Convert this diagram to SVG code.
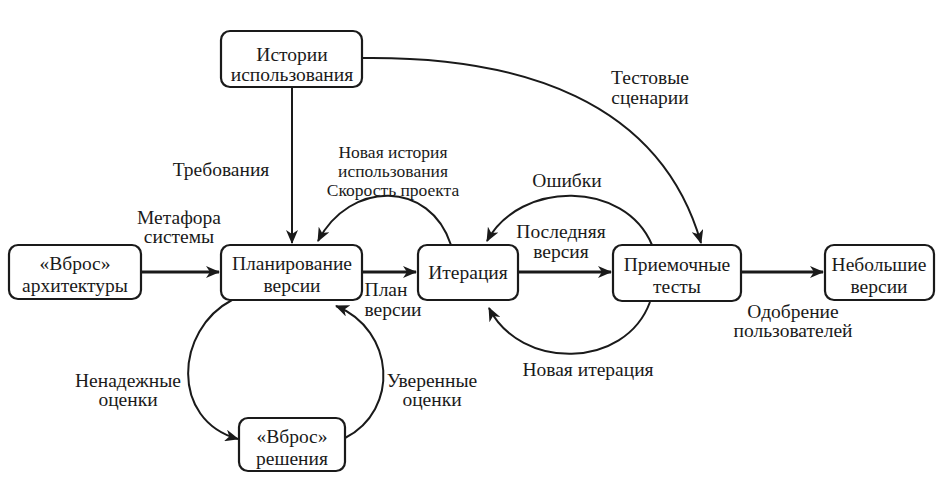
<svg xmlns="http://www.w3.org/2000/svg" width="941" height="490" viewBox="0 0 941 490" font-family="Liberation Serif, Times New Roman, serif">
<style>
.n rect{fill:#fff;stroke:#1a1a1a;stroke-width:2.2}
text{font-size:19.5px;fill:#1a1a1a;text-anchor:middle}
.c path{fill:none;stroke:#1a1a1a;stroke-width:2}
.c .t{stroke-width:3}
#lab3 text{font-size:17.5px}
</style>
<defs>
<marker id="a" markerWidth="14" markerHeight="12" refX="13" refY="6" orient="auto" markerUnits="userSpaceOnUse">
<path d="M0,0 L14,6 L0,12 L4,6 z" fill="#1a1a1a"/>
</marker>
</defs>
<rect width="941" height="490" fill="#fff"/>
<g class="c">
<path d="M292,87 V243" marker-end="url(#a)"/>
<path class="t" d="M141,272 H219" marker-end="url(#a)"/>
<path class="t" d="M362,272 H416" marker-end="url(#a)"/>
<path class="t" d="M518,272 H611" marker-end="url(#a)"/>
<path class="t" d="M741,272 H823" marker-end="url(#a)"/>
<path d="M362,58 C520,56 660,100 701,243" marker-end="url(#a)"/>
<path d="M451,245 C430,180 350,180 318,241" marker-end="url(#a)"/>
<path d="M652,245 C625,180 520,180 487,241" marker-end="url(#a)"/>
<path d="M650,302 C625,370 520,370 489,308" marker-end="url(#a)"/>
<path d="M232,300 C175,330 170,420 238,439" marker-end="url(#a)"/>
<path d="M345,438 C400,410 395,330 336,306" marker-end="url(#a)"/>
</g>
<g id="n1" class="n"><rect x="221" y="31" width="141" height="56" rx="9"/><text x="292" y="61">Истории</text><text x="292" y="81">использования</text></g>
<g id="n2" class="n"><rect x="9" y="245" width="132" height="54" rx="9"/><text x="75" y="270">«Вброс»</text><text x="75" y="292">архитектуры</text></g>
<g id="n3" class="n"><rect x="221" y="245" width="141" height="55" rx="9"/><text x="292" y="270">Планирование</text><text x="292" y="292">версии</text></g>
<g id="n4" class="n"><rect x="418" y="245" width="100" height="55" rx="9"/><text x="468" y="279">Итерация</text></g>
<g id="n5" class="n"><rect x="613" y="245" width="128" height="56" rx="9"/><text x="677" y="271">Приемочные</text><text x="677" y="293">тесты</text></g>
<g id="n6" class="n"><rect x="825" y="245" width="109" height="55" rx="9"/><text x="879" y="271">Небольшие</text><text x="879" y="293">версии</text></g>
<g id="n7" class="n"><rect x="239" y="418" width="106" height="53" rx="9"/><text x="292" y="443">«Вброс»</text><text x="292" y="465">решения</text></g>
<g id="labels">
<text x="221" y="176">Требования</text>
<text x="179" y="224">Метафора</text><text x="179" y="243">системы</text>
<g id="lab3"><text x="393" y="158">Новая история</text><text x="393" y="177">использования</text><text x="393" y="196">Скорость проекта</text></g>
<text x="650" y="84">Тестовые</text><text x="650" y="104">сценарии</text>
<text x="567" y="187">Ошибки</text>
<text x="561" y="238">Последняя</text><text x="561" y="258">версия</text>
<text x="386" y="296">План</text><text x="393" y="316">версии</text>
<text x="793" y="318">Одобрение</text><text x="793" y="337">пользователей</text>
<text x="588" y="376">Новая итерация</text>
<text x="128" y="387">Ненадежные</text><text x="128" y="406">оценки</text>
<text x="432" y="387">Уверенные</text><text x="432" y="406">оценки</text>
</g>
</svg>
